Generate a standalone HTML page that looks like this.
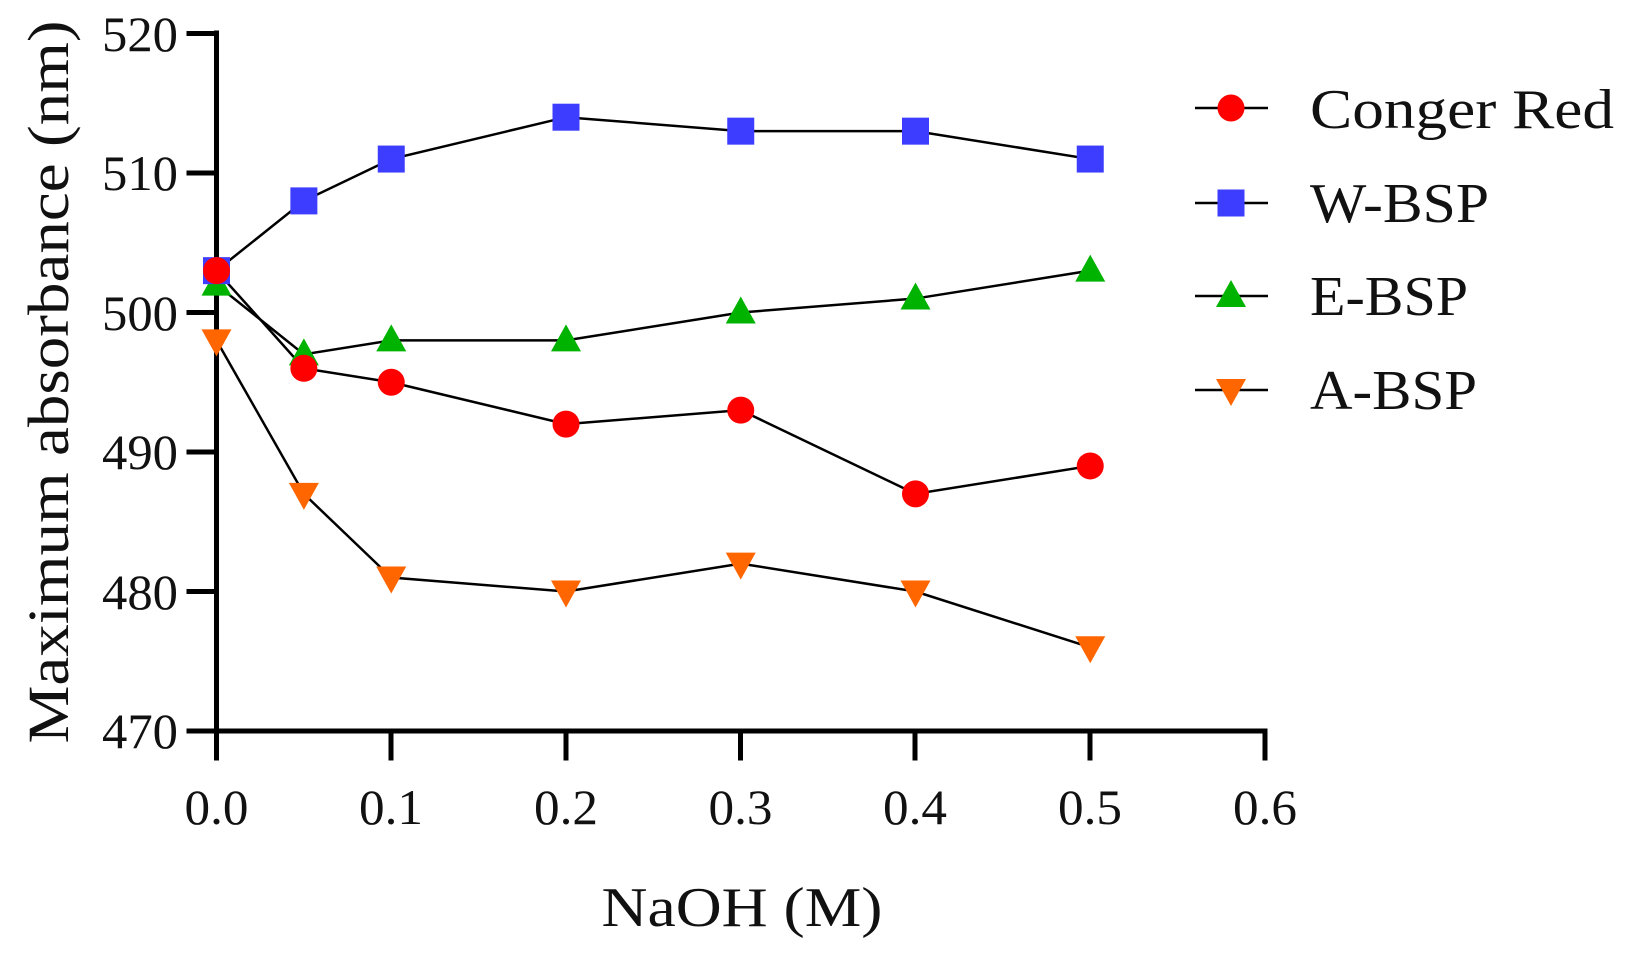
<!DOCTYPE html>
<html><head><meta charset="utf-8"><style>
html,body{margin:0;padding:0;background:#fff;}
svg{display:block;}
text{font-family:"Liberation Serif",serif;fill:#111;}
</style></head><body>
<svg id="s" width="1632" height="953" viewBox="0 0 1632 953" xmlns="http://www.w3.org/2000/svg">
<g stroke="#000" stroke-width="5" fill="none" stroke-linecap="square">
<path d="M216.5 33 V731 H1265 V758"/>
<path d="M189 33.5 H216.5 M189 173 H216.5 M189 312.5 H216.5 M189 452 H216.5 M189 591.5 H216.5 M189 731 H216.5"/>
<path d="M216.5 731 V758 M391 731 V758 M566 731 V758 M740.5 731 V758 M915 731 V758 M1090 731 V758"/>
</g>
<g font-size="50" text-anchor="end">
<text x="178" y="51" textLength="76" lengthAdjust="spacingAndGlyphs">520</text>
<text x="178" y="190" textLength="76" lengthAdjust="spacingAndGlyphs">510</text>
<text x="178" y="330" textLength="76" lengthAdjust="spacingAndGlyphs">500</text>
<text x="178" y="469" textLength="76" lengthAdjust="spacingAndGlyphs">490</text>
<text x="178" y="609" textLength="76" lengthAdjust="spacingAndGlyphs">480</text>
<text x="178" y="748" textLength="76" lengthAdjust="spacingAndGlyphs">470</text>
</g>
<g font-size="50" text-anchor="middle">
<text x="216.5" y="824" textLength="64" lengthAdjust="spacingAndGlyphs">0.0</text>
<text x="391" y="824" textLength="64" lengthAdjust="spacingAndGlyphs">0.1</text>
<text x="566" y="824" textLength="64" lengthAdjust="spacingAndGlyphs">0.2</text>
<text x="740.5" y="824" textLength="64" lengthAdjust="spacingAndGlyphs">0.3</text>
<text x="915" y="824" textLength="64" lengthAdjust="spacingAndGlyphs">0.4</text>
<text x="1090" y="824" textLength="64" lengthAdjust="spacingAndGlyphs">0.5</text>
<text x="1265" y="824" textLength="64" lengthAdjust="spacingAndGlyphs">0.6</text>
</g>
<text x="742" y="926" font-size="56" text-anchor="middle" textLength="281" lengthAdjust="spacingAndGlyphs">NaOH (M)</text>
<text transform="translate(68,382) rotate(-90)" font-size="58" text-anchor="middle" textLength="723" lengthAdjust="spacingAndGlyphs">Maximum absorbance (nm)</text>
<g id="plot"></g>
<g font-size="56">
<text x="1310" y="128" textLength="304" lengthAdjust="spacingAndGlyphs">Conger Red</text>
<text x="1310" y="222" textLength="179" lengthAdjust="spacingAndGlyphs">W-BSP</text>
<text x="1310" y="315" textLength="158" lengthAdjust="spacingAndGlyphs">E-BSP</text>
<text x="1310" y="409" textLength="167" lengthAdjust="spacingAndGlyphs">A-BSP</text>
</g>
<g id="leg"></g>
</svg>
<script>
var X=function(v){return 216.5+v*1747.5;},Y=function(v){return 731-(v-470)*13.95;};
var xs=[0,0.05,0.1,0.2,0.3,0.4,0.5];
var S=[
 {d:[503,496,495,492,493,487,489],c:"#ff0000",m:"o"},
 {d:[503,508,511,514,513,513,511],c:"#3d3dff",m:"s"},
 {d:[502,497,498,498,500,501,503],c:"#00b300",m:"t"},
 {d:[498,487,481,480,482,480,476],c:"#ff6600",m:"v"}];
function mk(m,x,y,c){
 if(m=="o")return '<circle cx="'+x+'" cy="'+y+'" r="13.5" fill="'+c+'"/>';
 if(m=="s")return '<rect x="'+(x-13.5)+'" y="'+(y-13.5)+'" width="27" height="27" fill="'+c+'"/>';
 if(m=="t")return '<polygon points="'+x+','+(y-16)+' '+(x-15)+','+(y+11)+' '+(x+15)+','+(y+11)+'" fill="'+c+'"/>';
 return '<polygon points="'+x+','+(y+16)+' '+(x-15)+','+(y-11)+' '+(x+15)+','+(y-11)+'" fill="'+c+'"/>';
}
var h='',m='';
S.forEach(function(s){
 var p=s.d.map(function(v,i){return X(xs[i])+','+Y(v);}).join(' ');
 h+='<polyline points="'+p+'" fill="none" stroke="#000" stroke-width="2.5"/>';
});
[3,2,1,0].forEach(function(k){var s=S[k];s.d.forEach(function(v,i){m+=mk(s.m,X(xs[i]),Y(v),s.c);});});
document.getElementById('plot').innerHTML=h+m;
var l='',ly=[108,203,296,390];
S.forEach(function(s,i){l+='<line x1="1195" x2="1268" y1="'+ly[i]+'" y2="'+ly[i]+'" stroke="#000" stroke-width="2.5"/>'+mk(s.m,1231,ly[i],s.c);});
document.getElementById('leg').innerHTML=l;
</script>
</body></html>
